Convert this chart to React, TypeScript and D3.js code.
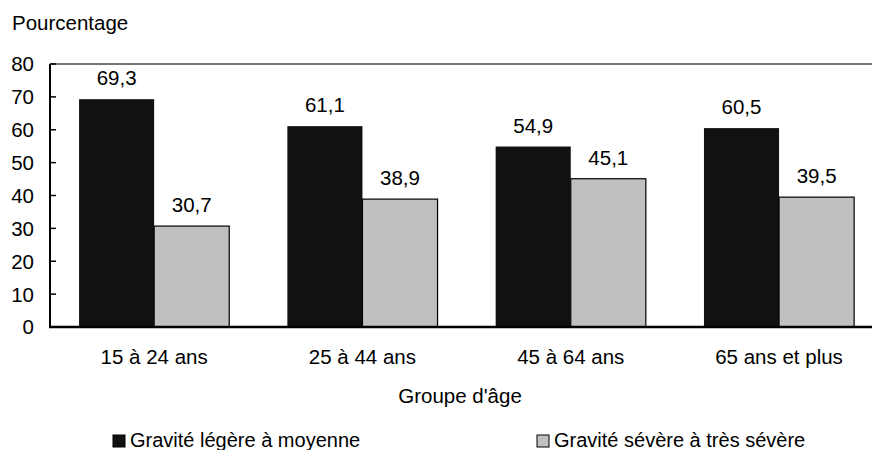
import React from "react";
import * as d3 from "d3";

const categories = ["15 à 24 ans", "25 à 44 ans", "45 à 64 ans", "65 ans et plus"];
const series = ["Gravité légère à moyenne", "Gravité sévère à très sévère"];
const mildValues = [69.3, 61.1, 54.9, 60.5];
const severeValues = [30.7, 38.9, 45.1, 39.5];
const yTicks = [0, 10, 20, 30, 40, 50, 60, 70, 80];
const colors = ["#111111", "#c0c0c0"];

const W = 872;
const H = 450;
const FONT = "Liberation Sans, Arial, sans-serif";
const FS = 20.5;

export default function App() {
  const x0 = d3.scaleBand<string>().domain(categories).range([50, 50 + 4 * 208.3]).padding(0);
  const x1 = d3
    .scaleBand<string>()
    .domain(series)
    .range([0, x0.bandwidth()])
    .paddingInner(0)
    .paddingOuter(0.387);
  const y = d3.scaleLinear().domain([0, 80]).range([327, 64]);
  const fmt = (v: number) => v.toFixed(1).replace(".", ",");
  const data = [mildValues, severeValues];

  return (
    <svg
      width={W}
      height={H}
      style={{ position: "absolute", left: 0, top: 0, background: "#fff" }}
      fontFamily={FONT}
    >
      <text x={12} y={30} fontSize={FS} fill="#000">
        Pourcentage
      </text>
      {/* top frame line */}
      <line x1={50} x2={W} y1={y(80)} y2={y(80)} stroke="#444" strokeWidth={1.6} />
      {/* bars */}
      {categories.map((c, i) =>
        series.map((s, j) => {
          const v = data[j][i];
          const bx = (x0(c) as number) + (x1(s) as number);
          const bw = x1.bandwidth();
          return (
            <g key={c + s}>
              <rect
                x={bx}
                y={y(v)}
                width={bw}
                height={y(0) - y(v)}
                fill={colors[j]}
                stroke="#000"
                strokeWidth={j === 1 ? 1.2 : 0}
              />
              <text
                x={bx + bw / 2}
                y={y(v) - 14}
                textAnchor="middle"
                fontSize={FS}
                fill="#000"
              >
                {fmt(v)}
              </text>
            </g>
          );
        })
      )}
      {/* y axis */}
      <line x1={50} x2={50} y1={y(80)} y2={y(0)} stroke="#000" strokeWidth={2} />
      {yTicks.map((t) => (
        <g key={t}>
          <line x1={50} x2={56} y1={y(t)} y2={y(t)} stroke="#000" strokeWidth={1.5} />
          <text x={34} y={y(t)} dy="0.36em" textAnchor="end" fontSize={FS} fill="#000">
            {t}
          </text>
        </g>
      ))}
      {/* x axis */}
      <line x1={49} x2={W} y1={y(0)} y2={y(0)} stroke="#000" strokeWidth={2.5} />
      {categories.map((c) => (
        <text
          key={c}
          x={(x0(c) as number) + x0.bandwidth() / 2}
          y={364}
          textAnchor="middle"
          fontSize={FS}
          fill="#000"
        >
          {c}
        </text>
      ))}
      <text x={460} y={403} textAnchor="middle" fontSize={FS} fill="#000">
        Groupe d'âge
      </text>
      {/* legend */}
      {series.map((s, j) => {
        const lx = j === 0 ? 113 : 537;
        return (
          <g key={s}>
            <rect x={lx} y={435} width={12} height={12} fill={colors[j]} stroke="#000" strokeWidth={1} />
            <text x={lx + 17} y={447} fontSize={20} fill="#000">
              {s}
            </text>
          </g>
        );
      })}
    </svg>
  );
}
